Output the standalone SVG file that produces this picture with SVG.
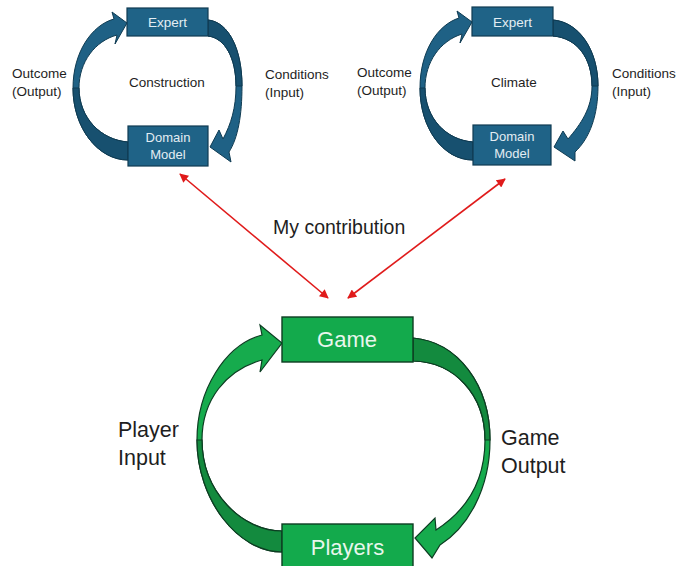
<svg xmlns="http://www.w3.org/2000/svg" width="681" height="566" viewBox="0 0 681 566">
<defs>
<style>
text{font-family:"Liberation Sans",Arial,sans-serif;fill:#1e1e1e}
.bbox{fill:#1f6387;stroke:#0f3b52;stroke-width:1.2}
.barc{fill:#1f6185;stroke:#0f3b52;stroke-width:1}
.bdark{fill:#17506f;stroke:#0f3b52;stroke-width:1}
.gbox{fill:#13aa4c;stroke:#0d3d22;stroke-width:1.4}
.garc{fill:#16ab4d;stroke:#0d3d22;stroke-width:1.2}
.gdark{fill:#138a3e;stroke:#0d3d22;stroke-width:1.2}
.bt{fill:#e3edf3;font-size:13.5px;text-anchor:middle}
.gt{fill:#e8f6ec;font-size:22px;text-anchor:middle}
.sm{font-size:13.5px}
.mid{font-size:13.5px;text-anchor:middle}
.big{font-size:21.5px}
.red{stroke:#e01b1b;stroke-width:1.6;fill:none}
</style>
<marker id="rh2" viewBox="0 0 10 10" refX="9" refY="5" markerWidth="10" markerHeight="9" orient="auto-start-reverse" markerUnits="userSpaceOnUse">
<path d="M0,0 L10,5 L0,10 Z" fill="#e01b1b"/>
</marker>
</defs>
<rect width="681" height="566" fill="#ffffff"/>

<g id="connectors">
<g id="tl-arcs">
<path class="barc" d="M114,19 L112,12 L127,23 L115,44 L117,35 C95,41 79,62 79,88 C79,118 101,140 128,142 L128,160 C98,160 73,128 73,88 C73,52 92,25 114,19 Z"/>
<path class="bdark" d="M79,88 C79,118 101,140 128,142 L128,160 C98,160 73,128 73,88 Z"/>
<path class="barc" d="M208,20 C229,22 242,50 242,86 C242,115 238,138 229,152 L231,162 L210,147 L219,130 L223,139 C231,124 236,108 236,86 C236,58 225,38 208,36 Z"/>
<path class="bdark" d="M208,20 C229,22 242,50 242,86 L236,86 C236,58 225,38 208,36 Z"/>
</g>
<g id="tr-arcs" transform="translate(345,0)">
<path class="barc" d="M114,18 L112,11 L127,22 L115,43 L117,34 C95,41 80,62 80,88 C80,118 101,140 128,142 L128,160 C98,160 75,128 75,88 C75,52 92,25 114,18 Z"/>
<path class="bdark" d="M80,88 C80,118 101,140 128,142 L128,160 C98,160 75,128 75,88 Z"/>
<path class="barc" d="M208,20 C234,22 253,50 253,86 C253,115 245,138 230,152 L230,161 L209,147 L218,131 L223,139 C236,124 247,108 247,86 C247,58 232,38 208,36 Z"/>
<path class="bdark" d="M208,20 C234,22 253,50 253,86 L247,86 C247,58 232,38 208,36 Z"/>
</g>
<g id="g-arcs">
<path class="garc" d="M262,335 L260,325 L282,343 L260,372 L262,360 C226,370 202,400 202,440 C202,492 242,531 282,531 L282,552 C238,552 197,500 197,440 C197,390 225,345 262,335 Z"/>
<path class="gdark" d="M202,440 C202,492 242,531 282,531 L282,552 C238,552 197,500 197,440 Z"/>
<path class="garc" d="M413,338 C458,342 490,385 490,440 C490,490 467,528 440,545 L432,558 L415,538 L435,518 L436,530 C467,510 485,480 485,440 C485,395 455,362 413,361 Z"/>
<path class="gdark" d="M413,338 C458,342 490,385 490,440 L485,440 C485,395 455,362 413,361 Z"/>
</g>
<line class="red" x1="180" y1="174" x2="328" y2="298" marker-start="url(#rh2)" marker-end="url(#rh2)"/>
<line class="red" x1="505" y1="179" x2="348" y2="298" marker-start="url(#rh2)" marker-end="url(#rh2)"/>
</g>

<g id="tl-expert">
<rect class="bbox" x="127" y="8" width="81" height="28"/>
<text class="bt" x="167.5" y="27">Expert</text>
</g>
<g id="tl-domain">
<rect class="bbox" x="128" y="126" width="80" height="40"/>
<text class="bt" x="168" y="142" style="font-size:13px">Domain</text>
<text class="bt" x="168" y="159" style="font-size:13px">Model</text>
</g>
<g id="tl-labels">
<text class="sm" x="12" y="78">Outcome</text>
<text class="sm" x="12" y="96">(Output)</text>
<text class="mid" x="167" y="87">Construction</text>
<text class="sm" x="265" y="79">Conditions</text>
<text class="sm" x="265" y="97">(Input)</text>
</g>

<g id="tr-expert">
<rect class="bbox" x="472" y="7" width="81" height="29"/>
<text class="bt" x="512.5" y="27">Expert</text>
</g>
<g id="tr-domain">
<rect class="bbox" x="473" y="125" width="78" height="40"/>
<text class="bt" x="512" y="141" style="font-size:13px">Domain</text>
<text class="bt" x="512" y="158" style="font-size:13px">Model</text>
</g>
<g id="tr-labels">
<text class="sm" x="357" y="77">Outcome</text>
<text class="sm" x="357" y="95">(Output)</text>
<text class="mid" x="514" y="87">Climate</text>
<text class="sm" x="612" y="78">Conditions</text>
<text class="sm" x="612" y="96">(Input)</text>
</g>

<g id="contribution">
<text x="273" y="234" style="font-size:19.5px">My contribution</text>
</g>

<g id="game">
<rect class="gbox" x="282" y="317" width="131" height="45"/>
<text class="gt" x="347" y="347">Game</text>
</g>
<g id="players">
<rect class="gbox" x="282" y="524" width="131" height="46"/>
<text class="gt" x="347.5" y="555">Players</text>
</g>
<g id="g-labels">
<text class="big" x="118" y="437">Player</text>
<text class="big" x="118" y="465">Input</text>
<text class="big" x="501" y="445">Game</text>
<text class="big" x="501" y="473">Output</text>
</g>
</svg>
